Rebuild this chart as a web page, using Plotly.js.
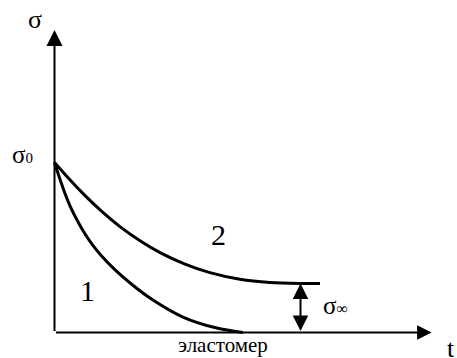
<!DOCTYPE html>
<html>
<head>
<meta charset="utf-8">
<script src="https://cdn.plot.ly/plotly-3.0.1.min.js"></script>
<style>
  html, body { margin: 0; padding: 0; background: #ffffff; }
  #chart { width: 457px; height: 358px; }
  #chart text, #chart tspan { font-family: "Liberation Serif", "Times New Roman", serif !important; }
</style>
</head>
<body>
<div id="chart"></div>
<script>
// Curve 1 (elastomer relaxes fully to zero)
const t1 = [0, 0.18, 0.35, 0.52, 0.75, 1.02, 1.28, 1.57, 2.02, 2.52, 3.18, 4.28, 5.41, 6.28];
const sigma1 = [10, 9.03, 8.18, 7.44, 6.62, 5.79, 5.12, 4.50, 3.68, 2.91, 2.03, 0.91, 0.26, 0];

// Curve 2 (relaxes to sigma_infinity)
const t2 = [0, 0.52, 1.02, 1.52, 2.18, 2.85, 3.52, 4.35, 5.18, 6.18, 7.18, 8.18, 8.85];
const sigma2 = [10, 8.97, 8.05, 7.21, 6.23, 5.40, 4.70, 4.02, 3.52, 3.13, 2.94, 2.88, 2.88];

// Axes extents and the sigma_infinity marker
const axisTipT = 12.57;
const axisTipSigma = 17.79;
const sigmaInfT = 8.2;
const sigmaInf = 2.88;

// Text labels
const labelSigma = "σ";
const labelSigma0 = "σ<span style=\"font-size:15px\">0</span>";
const labelSigmaInf = "σ<span style=\"font-size:16px\">∞</span>";
const labelCurve1 = "1";
const labelCurve2 = "2";
const labelMaterial = "эластомер";
const labelT = "t";

const black = "#000000";
const serif = "Liberation Serif, Times New Roman, serif";

const traces = [
  { x: t1, y: sigma1, mode: "lines",
    line: { color: black, width: 3, shape: "spline", smoothing: 0.8 } },
  { x: t2, y: sigma2, mode: "lines",
    line: { color: black, width: 3, shape: "spline", smoothing: 0.8 } }
];

function ann(text, x, y, size) {
  return { text: text, x: x, y: y, xref: "x", yref: "y", showarrow: false,
    font: { family: serif, size: size, color: black } };
}

function arrow(xHead, yHead, xTail, yTail, size, side) {
  return { text: "", x: xHead, y: yHead, ax: xTail, ay: yTail,
    xref: "x", yref: "y", axref: "x", ayref: "y",
    showarrow: true, arrowhead: 2, startarrowhead: 2, arrowside: side || "end",
    arrowsize: size, startarrowsize: size, arrowwidth: 2, arrowcolor: black,
    standoff: 0, startstandoff: 0 };
}

const layout = {
  width: 457, height: 358,
  margin: { l: 0, r: 0, t: 0, b: 0, pad: 0 },
  showlegend: false,
  font: { family: serif },
  xaxis: { range: [-1.8167, 13.4167], visible: false },
  yaxis: { range: [-1.5, 19.5588], visible: false },
  annotations: [
    arrow(0, axisTipSigma, 0, 0, 1.6),
    arrow(axisTipT, 0, 0, 0, 1.45),
    arrow(sigmaInfT, sigmaInf, sigmaInfT, 0, 1.55, "end+start"),
    ann(labelSigma, -0.65, 18.4, 26),
    ann(labelSigma0, -1.08, 10.5, 25),
    ann(labelCurve1, 1.1, 2.45, 30),
    ann(labelCurve2, 5.47, 5.75, 30),
    ann(labelSigmaInf, 9.35, 1.6, 25),
    ann(labelMaterial, 5.62, -0.75, 21),
    ann(labelT, 13.23, -0.95, 26)
  ]
};

Plotly.newPlot("chart", traces, layout, { staticPlot: true, displayModeBar: false });
</script>
</body>
</html>
